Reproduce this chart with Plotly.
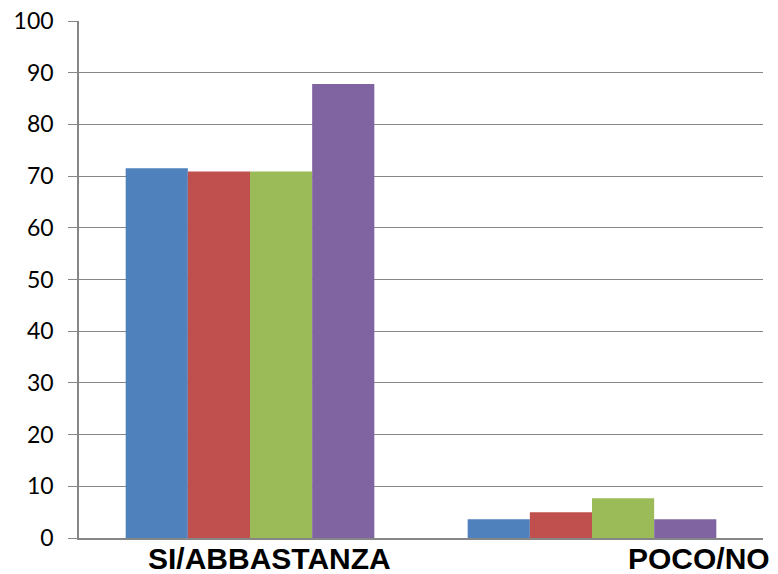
import plotly.graph_objects as go

categories = ["SI/ABBASTANZA", "POCO/NO"]
series_names = ["Serie 1", "Serie 2", "Serie 3", "Serie 4"]
series_values = [
    [71.5, 3.65],
    [70.9, 5.0],
    [70.9, 7.7],
    [87.8, 3.65],
]
colors = ["#4F81BD", "#C0504D", "#9BBB59", "#8064A2"]
y_ticks = [0, 10, 20, 30, 40, 50, 60, 70, 80, 90, 100]
label_pos = [0.278, 0.906]

fig = go.Figure()
for name, vals, col in zip(series_names, series_values, colors):
    fig.add_trace(go.Bar(x=categories, y=vals, name=name,
                         marker=dict(color=col, line=dict(width=0))))

for cat, px in zip(categories, label_pos):
    fig.add_annotation(text=f"<b>{cat}</b>", xref="paper", yref="paper",
                       x=px, y=0, yshift=-2, xanchor="center", yanchor="top",
                       showarrow=False,
                       font=dict(family="Liberation Sans, Arial", size=30, color="#000000"))

fig.update_layout(
    width=778, height=574,
    margin=dict(l=79, r=15, t=21, b=36, autoexpand=False),
    paper_bgcolor="white", plot_bgcolor="white",
    barmode="group", bargap=0.273, bargroupgap=0,
    showlegend=False,
    xaxis=dict(showticklabels=False, showline=True, linecolor="#868686",
               linewidth=1.5, ticks="", showgrid=False),
    yaxis=dict(range=[0, 100], tickvals=y_ticks, showgrid=True,
               gridcolor="#868686", gridwidth=1.3, showline=True,
               linecolor="#868686", linewidth=1.5, ticks="outside",
               ticklen=9, tickcolor="#868686", tickwidth=1.3,
               zeroline=False, ticklabelstandoff=10,
               tickfont=dict(family="Lato", size=23, color="#000000")),
)
fig.write_html("out.html", config={"displayModeBar": False},
               post_script="document.body.style.margin='0';document.body.style.overflow='hidden';")
